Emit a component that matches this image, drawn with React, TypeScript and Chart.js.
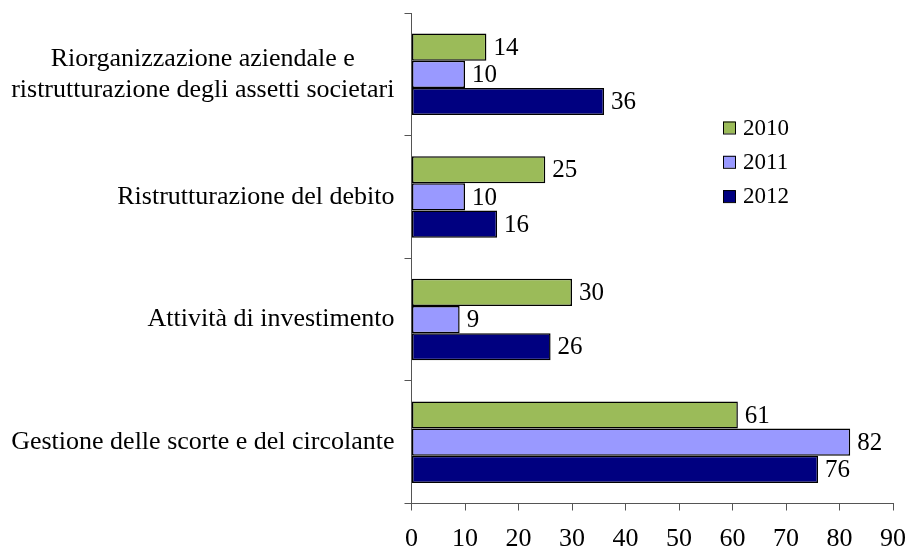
import React, { useEffect, useRef } from "react";
import { Chart, registerables } from "chart.js";

Chart.register(...registerables);

const categories: string[][] = [
  ["Riorganizzazione aziendale e", "ristrutturazione degli assetti societari"],
  ["Ristrutturazione del debito"],
  ["Attività di investimento"],
  ["Gestione delle scorte e del circolante"],
];
const seriesNames = ["2010", "2011", "2012"];
const values2010 = [14, 25, 30, 61];
const values2011 = [10, 10, 9, 82];
const values2012 = [36, 16, 26, 76];
const xTicks = [0, 10, 20, 30, 40, 50, 60, 70, 80, 90];

const colors = ["#9BBB59", "#9999FF", "#000080"];
const FONT = "'Liberation Serif', 'Times New Roman', serif";

const categoryLabelPlugin = {
  id: "categoryLabels",
  afterDraw(chart: any) {
    const ctx = chart.ctx;
    const y = chart.scales.y;
    ctx.save();
    ctx.font = `26px ${FONT}`;
    ctx.fillStyle = "#000";
    ctx.textAlign = "center";
    ctx.textBaseline = "middle";
    const right = chart.chartArea.left - 17;
    const lh = 31;
    categories.forEach((lines, i) => {
      const cy = y.getPixelForValue(i);
      const maxW = Math.max(...lines.map((l) => ctx.measureText(l).width));
      const cx = right - maxW / 2;
      const startY = cy - ((lines.length - 1) * lh) / 2;
      lines.forEach((l, j) => ctx.fillText(l, cx, startY + j * lh));
    });
    ctx.restore();
  },
};

const valueLabelPlugin = {
  id: "valueLabels",
  afterDatasetsDraw(chart: any) {
    const ctx = chart.ctx;
    ctx.save();
    ctx.font = `25px ${FONT}`;
    ctx.fillStyle = "#000";
    ctx.textAlign = "left";
    ctx.textBaseline = "middle";
    chart.data.datasets.forEach((ds: any, di: number) => {
      const meta = chart.getDatasetMeta(di);
      meta.data.forEach((el: any, i: number) => {
        ctx.fillText(String(ds.data[i]), el.x + 7, el.y + 1);
      });
    });
    ctx.restore();
  },
};

const legendPlugin = {
  id: "customLegend",
  afterDraw(chart: any) {
    const ctx = chart.ctx;
    ctx.save();
    ctx.font = `23px ${FONT}`;
    ctx.textBaseline = "middle";
    ctx.textAlign = "left";
    const bx = 723;
    const y0 = 127.5;
    const step = 34.3;
    chart.data.datasets.forEach((ds: any, i: number) => {
      const cy = y0 + i * step;
      ctx.fillStyle = ds.backgroundColor;
      ctx.fillRect(bx, cy - 6, 12, 12);
      ctx.strokeStyle = "#000";
      ctx.lineWidth = 1;
      ctx.strokeRect(bx + 0.5, cy - 5.5, 12, 12);
      ctx.fillStyle = "#000";
      ctx.fillText(ds.label, bx + 20, cy + 1);
    });
    ctx.restore();
  },
};

export default function App() {
  const ref = useRef<HTMLCanvasElement>(null);
  useEffect(() => {
    if (!ref.current) return;
    const chart = new Chart(ref.current, {
      type: "bar",
      data: {
        labels: categories.map((c) => c.join(" ")),
        datasets: [values2010, values2011, values2012].map((d, i) => ({
          label: seriesNames[i],
          data: d,
          backgroundColor: colors[i],
          borderColor: "#000",
          borderWidth: 1.5,
          borderSkipped: false,
          barPercentage: 1,
          categoryPercentage: 0.665,
        })),
      },
      options: {
        indexAxis: "y",
        responsive: false,
        animation: false,
        layout: { padding: { top: 13, left: 0, right: 23, bottom: 0 } },
        plugins: { legend: { display: false }, tooltip: { enabled: false } },
        scales: {
          x: {
            min: 0,
            max: 90,
            afterBuildTicks: (scale: any) => {
              scale.ticks = xTicks.map((v) => ({ value: v }));
            },
            afterFit: (scale: any) => {
              scale.height = 43.5;
              scale.paddingRight = 0;
              scale.paddingLeft = 0;
            },
            grid: { drawOnChartArea: false, drawTicks: true, tickLength: 7, color: "#555" },
            border: { display: true, color: "#555", width: 1 },
            ticks: {
              font: { family: FONT, size: 26 },
              color: "#000",
              padding: 13,
              maxRotation: 0,
              autoSkip: false,
            },
          },
          y: {
            afterFit: (scale: any) => {
              scale.width = 411.5;
            },
            grid: { drawOnChartArea: false, drawTicks: true, tickLength: 7, color: "#555", offset: true },
            border: { display: true, color: "#555", width: 1 },
            ticks: { display: false },
          },
        },
      },
      plugins: [categoryLabelPlugin, valueLabelPlugin, legendPlugin],
    } as any);
    return () => chart.destroy();
  }, []);
  return (
    <div style={{ position: "absolute", left: 0, top: 0, width: 916, height: 547, background: "#fff" }}>
      <canvas ref={ref} width={916} height={547} style={{ display: "block" }} />
    </div>
  );
}
